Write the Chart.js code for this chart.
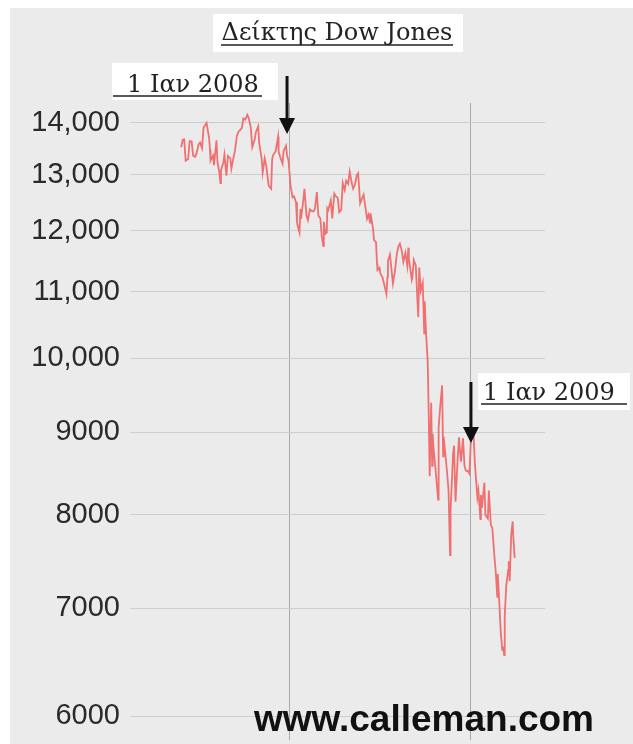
<!DOCTYPE html>
<html>
<head>
<meta charset="utf-8">
<script src="https://cdn.jsdelivr.net/npm/chart.js@4"></script>
<style>
html,body{margin:0;padding:0;background:#fff;}
#wrap{width:633px;height:744px;position:relative;}
</style>
</head>
<body>
<div id="wrap"><canvas id="dowChart" width="633" height="744"></canvas></div>
<script>

// Dow Jones closes (mid 2007 .. end of March 2009)
const dates = [
"2007-05-29","2007-06-01","2007-06-04","2007-06-07","2007-06-12","2007-06-15","2007-06-19","2007-06-22","2007-06-26","2007-06-29",
"2007-07-03","2007-07-06","2007-07-10","2007-07-13","2007-07-19","2007-07-24","2007-07-26","2007-07-27","2007-08-01","2007-08-03",
"2007-08-06","2007-08-08","2007-08-10","2007-08-14","2007-08-16","2007-08-17","2007-08-22","2007-08-24","2007-08-28","2007-08-31",
"2007-09-05","2007-09-07","2007-09-11","2007-09-14","2007-09-18","2007-09-21","2007-09-26","2007-09-28","2007-10-01","2007-10-05",
"2007-10-09","2007-10-12","2007-10-16","2007-10-19","2007-10-24","2007-10-26","2007-10-31","2007-11-02","2007-11-07","2007-11-09",
"2007-11-13","2007-11-16","2007-11-21","2007-11-26","2007-11-28","2007-11-30","2007-12-05","2007-12-10","2007-12-11","2007-12-14",
"2007-12-19","2007-12-21","2007-12-26","2007-12-28","2007-12-31",
"2008-01-04","2008-01-08","2008-01-11","2008-01-15","2008-01-17","2008-01-18","2008-01-22","2008-01-24","2008-01-25","2008-01-29",
"2008-02-01","2008-02-05","2008-02-08","2008-02-12","2008-02-15","2008-02-19","2008-02-22","2008-02-26","2008-02-29","2008-03-04",
"2008-03-07","2008-03-10","2008-03-11","2008-03-14","2008-03-17","2008-03-18","2008-03-20","2008-03-25","2008-03-28","2008-04-01",
"2008-04-04","2008-04-08","2008-04-11","2008-04-15","2008-04-18","2008-04-22","2008-04-25","2008-04-29","2008-05-02","2008-05-07",
"2008-05-09","2008-05-13","2008-05-16","2008-05-19","2008-05-22","2008-05-23","2008-05-28","2008-05-30","2008-06-03","2008-06-06",
"2008-06-09","2008-06-12","2008-06-13","2008-06-18","2008-06-20","2008-06-24","2008-06-26","2008-06-27","2008-07-01","2008-07-03",
"2008-07-07","2008-07-11","2008-07-15","2008-07-17","2008-07-18","2008-07-22","2008-07-25","2008-07-28","2008-08-01","2008-08-05",
"2008-08-08","2008-08-11","2008-08-15","2008-08-18","2008-08-22","2008-08-26","2008-08-28","2008-08-29","2008-09-04","2008-09-05",
"2008-09-08","2008-09-12","2008-09-15","2008-09-17","2008-09-19","2008-09-22","2008-09-26","2008-09-29","2008-09-30","2008-10-02",
"2008-10-03","2008-10-06","2008-10-08","2008-10-10","2008-10-13","2008-10-15","2008-10-16","2008-10-17","2008-10-22","2008-10-24",
"2008-10-27","2008-10-28","2008-10-31","2008-11-04","2008-11-06","2008-11-07","2008-11-11","2008-11-14","2008-11-17","2008-11-20",
"2008-11-21","2008-11-24","2008-11-26","2008-11-28","2008-12-01","2008-12-05","2008-12-08","2008-12-10","2008-12-12","2008-12-16",
"2008-12-19","2008-12-22","2008-12-26","2008-12-29","2008-12-31",
"2009-01-02","2009-01-06","2009-01-09","2009-01-14","2009-01-16","2009-01-20","2009-01-21","2009-01-23","2009-01-28","2009-01-30",
"2009-02-04","2009-02-06","2009-02-10","2009-02-13","2009-02-17","2009-02-20","2009-02-23","2009-02-24","2009-02-27","2009-03-02",
"2009-03-05","2009-03-06","2009-03-09","2009-03-10","2009-03-13","2009-03-17","2009-03-18","2009-03-20","2009-03-23","2009-03-26",
"2009-03-27","2009-03-30"
];

const dowValues = [
13521,13668,13676,13266,13295,13640,13636,13361,13337,13409,
13577,13612,13501,13908,14000,13716,13473,13266,13362,13182,
13469,13658,13240,13029,12845,13079,13236,13379,12983,13358,
13306,13114,13309,13442,13739,13821,13878,13896,14088,14066,
14164,14093,13912,13522,13675,13806,13930,13595,13300,13042,
13307,13176,12799,12743,13289,13372,13445,13727,13433,13339,
13207,13450,13551,13366,13265,
12800,12590,12606,12501,12159,12099,11971,12378,12207,12480,
12743,12265,12182,12373,12348,12337,12381,12684,12266,12213,
11894,11740,12156,11951,11972,12392,12361,12532,12216,12654,
12609,12577,12325,12362,12849,12721,12891,12832,13058,12814,
12745,12832,12986,13028,12625,12480,12594,12638,12390,12209,
12280,12141,12307,12029,11843,11807,11453,11347,11383,11288,
11231,11100,10963,11239,11496,11602,11370,11132,11326,11616,
11734,11782,11660,11479,11628,11413,11715,11543,11188,11220,
11511,11421,10917,10609,11388,11016,11143,10365,10851,10482,
10325,9955,9258,8451,9387,8577,8979,8852,8519,8378,
8175,9065,9325,9625,8695,8943,8693,8497,8273,7552,
8046,8443,8727,8829,8149,8635,8934,8761,8629,8924,
8579,8519,8515,8483,8776,
9034,9015,8599,8200,8281,7950,8228,8077,8375,8000,
7956,8280,7888,7850,7553,7366,7115,7351,7063,6763,
6595,6627,6547,6926,7224,7395,7486,7278,7776,7924,
7776,7522
];

const yTicks = [6000,7000,8000,9000,10000,11000,12000,13000,14000];
const yTickLabels = ["6000","7000","8000","9000","10,000","11,000","12,000","13,000","14,000"];

const chartTitle = "Δείκτης Dow Jones";
const markerDates = ["2008-01-01","2009-01-01"];
const markerLabels = ["1 Ιαν 2008","1 Ιαν 2009"];
const siteText = "www.calleman.com";

// days counted from 1 Jan 2008
function dayNum(s){
let p=s.split("-");
return (Date.UTC(+p[0],+p[1]-1,+p[2]) - Date.UTC(2008,0,1))/86400000;
}

const points = dates.map((d,i)=>({x:dayNum(d), y:dowValues[i]}));
const markerDays = markerDates.map(dayNum);

const backgroundPlugin = {
id:"bg",
beforeDraw(chart){
let c=chart.ctx;
c.save();
c.fillStyle="#ffffff";
c.fillRect(0,0,chart.width,chart.height);
c.fillStyle="#ebebeb";
c.fillRect(10,8,chart.width-10,chart.height-8);
c.restore();
}
};

function drawArrow(c,x,y1,y2){
c.strokeStyle="#111";
c.fillStyle="#111";
c.lineWidth=3;
c.beginPath();
c.moveTo(x,y1);
c.lineTo(x,y2-14);
c.stroke();
c.beginPath();
c.moveTo(x-8,y2-16);
c.lineTo(x+8,y2-16);
c.lineTo(x,y2);
c.closePath();
c.fill();
}

function drawLabelBox(c,text,box,textX,textW,baseY,ulX1,ulX2,font){
c.fillStyle="#ffffff";
c.fillRect(box[0],box[1],box[2],box[3]);
c.fillStyle="#222";
c.font=font;
c.textAlign="left";
c.textBaseline="alphabetic";
c.fillText(text,textX,baseY,textW);
c.strokeStyle="#222";
c.lineWidth=1.5;
c.beginPath();
c.moveTo(ulX1,baseY+4);
c.lineTo(ulX2,baseY+4);
c.stroke();
}

const overlayPlugin = {
id:"overlay",
afterDraw(chart){
let c=chart.ctx;
let xs=chart.scales.x;
c.save();

// title
c.fillStyle="#ffffff";
c.fillRect(213,14,250,38);
c.font="24px 'DejaVu Serif'";
c.fillStyle="#222";
c.textAlign="center";
c.textBaseline="alphabetic";
c.fillText(chartTitle,337,40,232);
c.strokeStyle="#222";
c.lineWidth=1.5;
c.beginPath();
c.moveTo(221,45);
c.lineTo(453,45);
c.stroke();

// markers
let x08=xs.getPixelForValue(markerDays[0]);
let x09=xs.getPixelForValue(markerDays[1]);
drawLabelBox(c,markerLabels[0],[112,63,166,37],127,132,92,113,262,"24px 'DejaVu Serif'");
drawArrow(c,x08-2,76,134);
drawLabelBox(c,markerLabels[1],[478,373,152,37],483,142,400,481,627,"24px 'DejaVu Serif'");
drawArrow(c,x09,382,443);

// site
c.font="bold 37px 'Liberation Sans', Arial";
c.fillStyle="#111";
c.textAlign="center";
c.fillText(siteText,424,731);

c.restore();
}
};

let dowChartInstance = new Chart(document.getElementById("dowChart"),{
type:"line",
data:{
datasets:[{
label:"Dow Jones",
data:points,
borderColor:"#ef7070",
borderWidth:1.8,
pointRadius:0,
tension:0,
fill:false
}]
},
options:{
responsive:false,
animation:false,
layout:{padding:{left:0,right:88,top:103,bottom:4}},
plugins:{
legend:{display:false},
tooltip:{enabled:false}
},
scales:{
x:{
type:"linear",
min:-320,
max:515,
afterBuildTicks(scale){
scale.ticks=markerDays.map(v=>({value:v}));
},
afterFit(scale){
scale.height=0;
scale.paddingLeft=0;
scale.paddingRight=0;
},
ticks:{display:false},
border:{display:false},
grid:{color:"#a8a8a8",lineWidth:1,drawTicks:false}
},
y:{
type:"logarithmic",
min:5799,
max:14404,
afterBuildTicks(scale){
scale.ticks=yTicks.map(v=>({value:v}));
},
afterFit(scale){
scale.width=130;
scale.paddingTop=0;
scale.paddingBottom=0;
},
ticks:{
color:"#2a2a2a",
font:{family:"'Liberation Sans', Arial",size:29},
padding:10,
callback:(v)=>{
let i=yTicks.indexOf(v);
return i>=0 ? yTickLabels[i] : "";
}
},
border:{display:false},
grid:{color:"#cdcdcd",lineWidth:1,drawTicks:false}
}
}
},
plugins:[backgroundPlugin,overlayPlugin]
});

</script>
</body>
</html>
